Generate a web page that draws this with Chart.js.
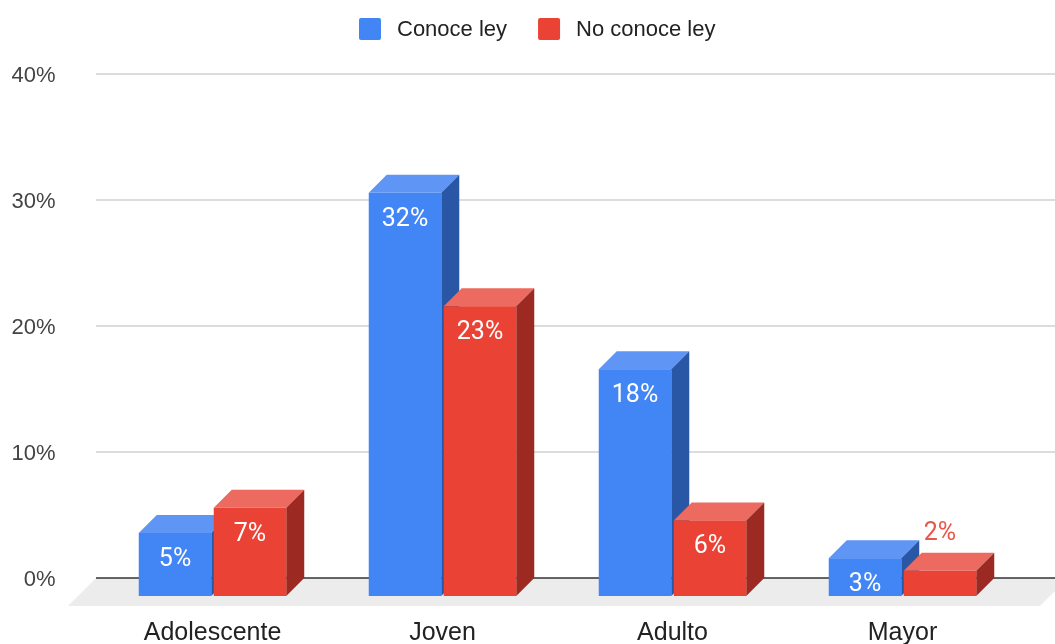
<!DOCTYPE html>
<html lang="es">
<head>
<meta charset="UTF-8">
<title>Conocimiento de la ley por edad</title>
<script src="https://cdn.jsdelivr.net/npm/chart.js@4"></script>
<style>
  html, body { margin: 0; padding: 0; background: #fff; }
  #wrap { width: 1055px; height: 644px; position: relative; }
</style>
</head>
<body>
<div id="wrap"><canvas id="grafico"></canvas></div>
<script>
const categorias = ['Adolescente', 'Joven', 'Adulto', 'Mayor'];
const series = ['Conoce ley', 'No conoce ley'];
const conoceLey = [5, 32, 18, 3];
const noConoceLey = [7, 23, 6, 2];
const ticksY = [0, 10, 20, 30, 40];

// colores de cada cara: frente, tapa, costado
const caras = [
  { frente: '#4285f4', tapa: '#5f96f5', costado: '#2a56a6', etiqueta: '#4285f4' },
  { frente: '#ea4335', tapa: '#ec6a5f', costado: '#9c2a22', etiqueta: '#e8574c' }
];

const PROF = 18;   // profundidad de las barras
const PISO = 28;   // profundidad del piso
const EXTRA = 19.5;

const fuenteEjes = '"Liberation Sans", Arial, sans-serif';

// dibuja piso, grilla y barras en 3D
const barras3d = {
  id: 'barras3d',
  beforeDatasetsDraw(chart) {
    const { ctx, chartArea: a, scales: { y } } = chart;
    const izq = a.left - EXTRA, der = a.right + EXTRA;
    const y0 = y.getPixelForValue(0);
    ctx.save();

    ctx.fillStyle = '#ececec';
    ctx.beginPath();
    ctx.moveTo(izq, y0);
    ctx.lineTo(der + 13, y0);
    ctx.lineTo(der + 13 - PISO, y0 + PISO);
    ctx.lineTo(izq - PISO, y0 + PISO);
    ctx.closePath();
    ctx.fill();

    y.ticks.forEach(t => {
      const py = y.getPixelForValue(t.value);
      ctx.beginPath();
      ctx.moveTo(izq, py);
      ctx.lineTo(der, py);
      ctx.lineWidth = 1.5;
      ctx.strokeStyle = t.value === 0 ? '#333' : '#d0d0d0';
      ctx.stroke();
    });

    chart.data.datasets.forEach((ds, i) => {
      const c = caras[i];
      chart.getDatasetMeta(i).data.forEach(bar => {
        const { x, y: top, base, width } = bar.getProps(['x', 'y', 'base', 'width'], true);
        const l = x - width / 2, r = x + width / 2;
        // tapa
        ctx.fillStyle = c.tapa;
        ctx.beginPath();
        ctx.moveTo(l - PROF, top + PROF);
        ctx.lineTo(r - PROF, top + PROF);
        ctx.lineTo(r, top);
        ctx.lineTo(l, top);
        ctx.closePath();
        ctx.fill();
        // costado
        ctx.fillStyle = c.costado;
        ctx.beginPath();
        ctx.moveTo(r - PROF, top + PROF);
        ctx.lineTo(r, top);
        ctx.lineTo(r, base);
        ctx.lineTo(r - PROF, base + PROF);
        ctx.closePath();
        ctx.fill();
        // frente
        ctx.fillStyle = c.frente;
        ctx.fillRect(l - PROF, top + PROF, width, base - top);
      });
    });
    ctx.restore();
  },
  beforeDatasetDraw() {
    return false;
  },
  afterDatasetsDraw(chart) {
    const { ctx } = chart;
    ctx.save();
    ctx.font = '25px Roboto, sans-serif';
    ctx.textAlign = 'center';
    ctx.textBaseline = 'alphabetic';
    chart.data.datasets.forEach((ds, i) => {
      chart.getDatasetMeta(i).data.forEach((bar, j) => {
        const { x, y: top, base } = bar.getProps(['x', 'y', 'base'], true);
        const fx = x - PROF;
        const frenteTop = top + PROF;
        const txt = ds.data[j] + '%';
        if (base - top > 30) {
          ctx.fillStyle = '#fff';
          ctx.fillText(txt, fx, frenteTop + 33);
        } else {
          ctx.fillStyle = caras[i].etiqueta;
          ctx.fillText(txt, fx, frenteTop - 31);
        }
      });
    });
    ctx.restore();
  }
};

// leyenda arriba, centrada
const leyenda = {
  id: 'leyenda',
  afterDraw(chart) {
    const { ctx } = chart;
    ctx.save();
    ctx.font = '22px ' + fuenteEjes;
    ctx.textBaseline = 'middle';
    ctx.textAlign = 'left';
    let x = 359;
    const yc = 29;
    chart.data.datasets.forEach((ds, i) => {
      ctx.fillStyle = caras[i].frente;
      ctx.beginPath();
      ctx.roundRect(x, yc - 11, 22, 22, 2);
      ctx.fill();
      x += 22 + 16;
      ctx.fillStyle = '#222';
      ctx.fillText(ds.label, x, yc + 1);
      x += ctx.measureText(ds.label).width + 31;
    });
    ctx.restore();
  }
};

new Chart(document.getElementById('grafico'), {
  type: 'bar',
  data: {
    labels: categorias,
    datasets: [
      { label: series[0], data: conoceLey, backgroundColor: caras[0].frente },
      { label: series[1], data: noConoceLey, backgroundColor: caras[1].frente }
    ]
  },
  options: {
    responsive: true,
    maintainAspectRatio: false,
    animation: false,
    categoryPercentage: 0.652,
    barPercentage: 0.967,
    layout: { padding: { top: 74, right: 19.5, left: 0, bottom: 0 } },
    plugins: {
      legend: { display: false },
      tooltip: { enabled: false }
    },
    scales: {
      x: {
        grid: { display: false, drawTicks: false },
        border: { display: false },
        afterFit: s => {
          s.height = 66;
          s.paddingLeft = 0; s.paddingRight = 0;
          s.paddingTop = 0; s.paddingBottom = 0;
        },
        ticks: {
          color: '#222',
          font: { family: fuenteEjes, size: 25 },
          labelOffset: -PROF,
          padding: 40,
          maxRotation: 0
        }
      },
      y: {
        min: ticksY[0],
        max: ticksY[ticksY.length - 1],
        grid: { display: false, drawTicks: false },
        border: { display: false },
        afterFit: s => {
          s.width = 115.5;
          s.paddingTop = 0; s.paddingBottom = 0;
          s.paddingLeft = 0; s.paddingRight = 0;
        },
        afterBuildTicks: s => { s.ticks = ticksY.map(v => ({ value: v })); },
        ticks: {
          color: '#444',
          font: { family: fuenteEjes, size: 22 },
          padding: 60,
          labelOffset: 2,
          callback: v => v + '%'
        }
      }
    }
  },
  plugins: [barras3d, leyenda]
});
</script>
</body>
</html>
